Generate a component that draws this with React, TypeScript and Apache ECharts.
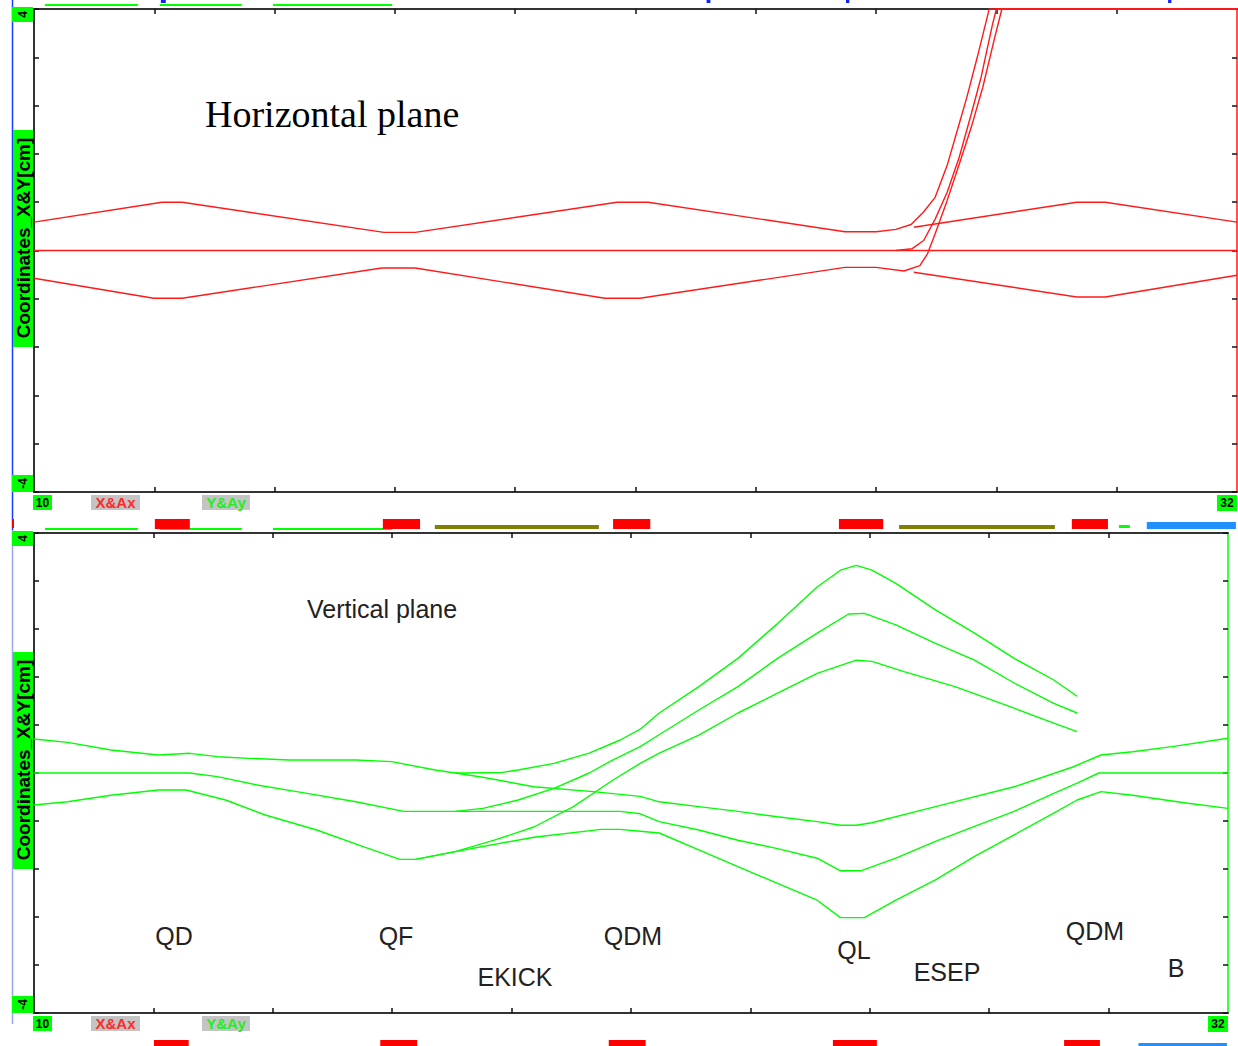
import React, { useEffect, useRef } from "react";
import * as echarts from "echarts";

// ---------- axis ranges / ticks ----------
const X_MIN = 10;
const X_MAX = 32;
const Y_MIN = -4;
const Y_MAX = 4;
const Y_INTERVAL = 0.8;
const X_TICKS = [12.2, 14.4, 16.6, 18.8, 21.0, 23.2, 25.4, 27.6, 29.8];

// ---------- Horizontal plane (red), [s, x_cm] ----------
const hUpper = [
  [10, 0.47], [12.34, 0.8], [12.71, 0.8], [16.4, 0.3], [16.97, 0.3], [20.66, 0.8], [21.23, 0.8],
  [24.83, 0.31], [25.4, 0.31], [25.76, 0.35], [26.04, 0.43], [26.26, 0.63], [26.48, 0.88],
  [26.7, 1.41], [26.92, 2.1], [27.06, 2.54], [27.25, 3.2], [27.46, 3.97], [27.47, 4], [32, 4],
];
const hCenter = [[10, 0], [32, 0]];
const hCenterKicked = [
  [25.76, 0], [26.06, 0.03], [26.27, 0.165], [26.48, 0.52], [26.7, 0.965], [26.92, 1.545],
  [27.14, 2.26], [27.32, 2.87], [27.53, 3.75], [27.6, 4], [32, 4],
];
const hLower = [
  [10, -0.46], [12.19, -0.79], [12.71, -0.79], [16.36, -0.29], [16.97, -0.29], [20.44, -0.79],
  [21.08, -0.79], [24.83, -0.28], [25.4, -0.28], [25.91, -0.34], [26.2, -0.25], [26.34, -0.055],
  [26.48, 0.276], [26.7, 0.83], [26.92, 1.43], [27.14, 2.04], [27.35, 2.7], [27.57, 3.53], [27.7, 4], [32, 4],
];
const hUpperOut = [[26.09, 0.386], [29.07, 0.8], [29.59, 0.8], [32, 0.47]];
const hLowerOut = [[26.09, -0.36], [29.07, -0.77], [29.59, -0.77], [32, -0.41]];

// ---------- Vertical plane (green), [s, y_cm] ----------
const vUpper = [
  [10, 0.567], [10.62, 0.51], [11.42, 0.383], [12.29, 0.3], [12.87, 0.328], [13.38, 0.272],
  [13.97, 0.244], [14.7, 0.217], [15.93, 0.217], [16.59, 0.189], [17.39, 0.05], [17.76, 0.0],
  [18.27, -0.07], [19.21, -0.23], [20.3, -0.31], [21.17, -0.39], [21.52, -0.48], [22.25, -0.56],
  [22.97, -0.64], [23.7, -0.73], [24.43, -0.81], [24.86, -0.87], [25.15, -0.87], [25.44, -0.83],
  [26.61, -0.56], [28.06, -0.23], [29.14, 0.1], [29.66, 0.3], [30.24, 0.355], [30.97, 0.44], [32, 0.58],
];
const vCenter = [
  [10, 0.0], [12.87, 0.0], [13.38, -0.06], [14.11, -0.2], [14.84, -0.31], [15.93, -0.48],
  [16.81, -0.64], [17.76, -0.64], [19.94, -0.64], [20.8, -0.64], [21.17, -0.68], [21.52, -0.81],
  [22.25, -0.95], [22.97, -1.12], [23.7, -1.26], [24.43, -1.42], [24.86, -1.63], [25.23, -1.63],
  [25.88, -1.42], [26.61, -1.14], [27.33, -0.89], [28.06, -0.64], [28.79, -0.34], [29.22, -0.17],
  [29.62, 0.0], [32, 0.0],
];
const vLower = [
  [10, -0.533], [10.62, -0.48], [11.42, -0.37], [12.29, -0.283], [12.8, -0.283], [13.53, -0.45],
  [14.26, -0.7], [15.21, -0.95], [16.08, -1.23], [16.74, -1.44], [17.03, -1.44], [17.76, -1.31],
  [19.21, -1.07], [20.45, -0.94], [20.8, -0.94], [21.17, -0.97], [21.52, -1.0], [22.25, -1.28],
  [22.97, -1.56], [23.7, -1.84], [24.43, -2.12], [24.86, -2.41], [25.3, -2.41], [25.88, -2.12],
  [26.61, -1.78], [27.33, -1.39], [28.06, -1.03], [28.79, -0.67], [29.22, -0.45], [29.66, -0.31],
  [30.24, -0.37], [31.26, -0.505], [32, -0.59],
];
const vUpperKicked = [
  [17.76, 0.0], [17.97, 0.0], [18.63, 0.01], [18.92, 0.05], [19.58, 0.16], [20.23, 0.33],
  [20.67, 0.5], [20.8, 0.55], [21.17, 0.73], [21.52, 1.0], [22.25, 1.44], [22.97, 1.91],
  [23.7, 2.49], [24.07, 2.8], [24.43, 3.1], [24.86, 3.38], [25.15, 3.46], [25.44, 3.38],
  [25.88, 3.16], [26.61, 2.72], [27.33, 2.33], [28.06, 1.91], [28.79, 1.55], [29.22, 1.28],
];
const vCenterKicked = [
  [17.76, -0.64], [18.27, -0.59], [18.92, -0.45], [19.58, -0.255], [20.23, 0.0], [20.67, 0.22],
  [21.17, 0.44], [21.45, 0.6], [22.25, 1.05], [22.97, 1.44], [23.7, 1.91], [24.43, 2.33],
  [25.01, 2.65], [25.3, 2.66], [25.88, 2.47], [26.61, 2.16], [27.33, 1.88], [28.06, 1.5],
  [28.79, 1.16], [29.22, 1.0],
];
const vLowerKicked = [
  [17.03, -1.44], [17.76, -1.31], [18.48, -1.12], [19.21, -0.9], [19.94, -0.56], [20.67, -0.117],
  [21.17, 0.16], [21.52, 0.33], [22.25, 0.63], [22.97, 1.0], [23.7, 1.33], [24.43, 1.66],
  [25.15, 1.88], [25.44, 1.86], [26.03, 1.69], [26.97, 1.44], [28.06, 1.08], [28.79, 0.83], [29.22, 0.69],
];

// ---------- lattice: [start, end, kind] kind: 0 quad, 1 kicker/septum, 2 corrector, 3 bend ----------
const latticeElements = [
  [12.21, 12.85, 0], [16.38, 17.06, 0], [20.59, 21.27, 0], [24.72, 25.53, 0], [28.98, 29.64, 0],
  [17.33, 20.33, 1], [25.82, 28.67, 1],
  [29.84, 30.04, 2],
  [30.35, 31.98, 3],
];
const driftSegments = [[10.2, 11.9], [12.3, 13.8], [14.37, 16.55]];
const topMarkers = [[12.32, 12.41], [22.3, 22.37], [24.85, 24.91], [30.74, 30.8]];

// ---------- element names shown in the vertical plane ----------
const elementLabels = [
  { name: "QD", x: 174, y: 936 },
  { name: "QF", x: 396, y: 936 },
  { name: "QDM", x: 633, y: 936 },
  { name: "EKICK", x: 515, y: 977 },
  { name: "QL", x: 854, y: 950 },
  { name: "ESEP", x: 947, y: 972 },
  { name: "QDM", x: 1095, y: 931 },
  { name: "B", x: 1176, y: 968 },
];

const RED = "#ff1a1a";
const GREEN = "#00ff00";
const OLIVE = "#808000";
const BLUE = "#2090ff";
const SANS = "'Liberation Sans', Arial, sans-serif";
const SERIF = "'Liberation Serif', 'Times New Roman', serif";

const KIND_STYLE = [
  { top: 0, h: 10, color: "#ff0000" },
  { top: 6, h: 4, color: OLIVE },
  { top: 6, h: 3, color: GREEN },
  { top: 3, h: 7, color: BLUE },
];

function box(x: number, y: number, w: number, h: number, fill: string) {
  return { type: "rect", shape: { x, y, width: w, height: h }, style: { fill }, z: 5 };
}
function txt(text: string, x: number, y: number, font: string, fill: string, rotation = 0, align = "center") {
  return {
    type: "text",
    x,
    y,
    rotation,
    z: 6,
    style: { text, font, fill, align, verticalAlign: "middle" },
  };
}

function lineSeries(name: string, data: number[][], color: string, xi: number, yi: number) {
  return {
    name,
    type: "line",
    xAxisIndex: xi,
    yAxisIndex: yi,
    data,
    showSymbol: false,
    symbol: "none",
    clip: false,
    lineStyle: { color, width: 1.4 },
    z: 3,
  };
}

function latticeSeries(xi: number, yi: number) {
  return {
    type: "custom",
    xAxisIndex: xi,
    yAxisIndex: yi,
    data: latticeElements,
    dimensions: ["start", "end", "kind"],
    encode: { x: [0, 1] },
    clip: false,
    z: 4,
    renderItem: (params: any, api: any) => {
      const s = api.coord([api.value(0), 0]);
      const e = api.coord([api.value(1), 0]);
      const st = KIND_STYLE[api.value(2)];
      const cs = params.coordSys;
      return {
        type: "rect",
        shape: { x: s[0], y: cs.y + st.top, width: e[0] - s[0], height: st.h },
        style: { fill: st.color },
      };
    },
  };
}

function segmentSeries(data: number[][], xi: number, yi: number, top: number, h: number, color: string) {
  return {
    type: "custom",
    xAxisIndex: xi,
    yAxisIndex: yi,
    data,
    dimensions: ["start", "end"],
    encode: { x: [0, 1] },
    clip: false,
    z: 3,
    renderItem: (params: any, api: any) => {
      const s = api.coord([api.value(0), 0]);
      const e = api.coord([api.value(1), 0]);
      const cs = params.coordSys;
      return {
        type: "rect",
        shape: { x: s[0], y: cs.y + top, width: e[0] - s[0], height: h },
        style: { fill: color },
      };
    },
  };
}

function plotX(grid: number, position: string) {
  return {
    type: "value",
    gridIndex: grid,
    position,
    min: X_MIN,
    max: X_MAX,
    axisLine: { show: true, onZero: false, lineStyle: { color: "#333", width: 2 } },
    axisTick: { show: true, inside: true, length: 5, customValues: X_TICKS, lineStyle: { color: "#111", width: 1.5 } },
    axisLabel: { show: false },
    splitLine: { show: false },
  };
}
function plotY(grid: number, position: string, color: string, width: number) {
  return {
    type: "value",
    gridIndex: grid,
    position,
    min: Y_MIN,
    max: Y_MAX,
    interval: Y_INTERVAL,
    axisLine: { show: true, onZero: false, lineStyle: { color, width } },
    axisTick: { show: true, inside: true, length: 5, lineStyle: { color: "#111", width: 1.5 } },
    axisLabel: { show: false },
    splitLine: { show: false },
  };
}
function hiddenX(grid: number) {
  return { type: "value", gridIndex: grid, min: X_MIN, max: X_MAX, show: false };
}
function hiddenY(grid: number) {
  return { type: "value", gridIndex: grid, min: 0, max: 1, show: false };
}

function panelDecor(top: number, bottom: number, titleY: number, labelRowY: number, right: number) {
  const items: any[] = [];
  // y max label "4"
  items.push(box(12, top - 2, 21, 15, GREEN));
  items.push(txt("4", 22.5, top + 5.5, `bold 12px ${SANS}`, "#000", Math.PI / 2));
  // y min label "-4"
  items.push(box(12, bottom - 17, 21, 17, GREEN));
  items.push(txt("-4", 22.5, bottom - 8.5, `bold 12px ${SANS}`, "#000", Math.PI / 2));
  // y title
  items.push(box(13, titleY - 108, 20, 217, GREEN));
  items.push(txt("Coordinates_X&Y[cm]", 23, titleY, `bold 19px ${SANS}`, "#000", Math.PI / 2));
  // x labels row
  items.push(box(33, labelRowY, 19, 15, GREEN));
  items.push(txt("10", 42.5, labelRowY + 7.5, `bold 12px ${SANS}`, "#000"));
  items.push(box(91, labelRowY, 49, 15, "#c4c4c4"));
  items.push(txt("X&Ax", 115.5, labelRowY + 7.5, `bold 15px ${SANS}`, "#ff2a2a"));
  items.push(box(202, labelRowY, 48, 15, "#c4c4c4"));
  items.push(txt("Y&Ay", 226, labelRowY + 7.5, `bold 15px ${SANS}`, "#22ee22"));
  items.push(box(right - 20, labelRowY, 20, 16, GREEN));
  items.push(txt("32", right - 10, labelRowY + 8, `bold 12px ${SANS}`, "#000"));
  return items;
}

export default function App() {
  const ref = useRef<HTMLDivElement>(null);

  useEffect(() => {
    if (!ref.current) return;
    const chart = echarts.init(ref.current, undefined, { renderer: "svg" });

    const graphic: any[] = [
      { type: "line", shape: { x1: 12.5, y1: 0, x2: 12.5, y2: 530 }, style: { stroke: "#1840ff", lineWidth: 1.5 }, z: 4 },
      { type: "line", shape: { x1: 12.5, y1: 530, x2: 12.5, y2: 1024 }, style: { stroke: "#98a6f2", lineWidth: 1.5 }, z: 4 },
      box(12, 519, 2, 9, "#ff0000"),
      ...panelDecor(9, 492, 238, 495, 1237),
      ...panelDecor(533, 1013, 760, 1016, 1228),
      txt("Horizontal plane", 205, 114, `38px ${SERIF}`, "#000", 0, "left"),
      txt("Vertical plane", 307, 609, `25px ${SANS}`, "#222", 0, "left"),
      ...elementLabels.map((l) => txt(l.name, l.x, l.y, `25px ${SANS}`, "#222")),
    ];

    chart.setOption({
      animation: false,
      backgroundColor: "#ffffff",
      grid: [
        { left: 34, top: 9, width: 1203, height: 483 },
        { left: 34, top: 533, width: 1194, height: 480 },
        { left: 34, top: 519, width: 1203, height: 11 },
        { left: 34, top: 1040, width: 1194, height: 11 },
        { left: 34, top: 0, width: 1203, height: 6 },
      ],
      xAxis: [
        plotX(0, "bottom"),
        plotX(0, "top"),
        plotX(1, "bottom"),
        plotX(1, "top"),
        hiddenX(2),
        hiddenX(3),
        hiddenX(4),
      ],
      yAxis: [
        plotY(0, "left", "#333", 2),
        plotY(0, "right", RED, 1.5),
        plotY(1, "left", "#333", 2),
        plotY(1, "right", GREEN, 1.5),
        hiddenY(2),
        hiddenY(3),
        hiddenY(4),
      ],
      series: [
        lineSeries("x upper", hUpper, RED, 0, 0),
        lineSeries("x center", hCenter, RED, 0, 0),
        lineSeries("x center kicked", hCenterKicked, RED, 0, 0),
        lineSeries("x lower", hLower, RED, 0, 0),
        lineSeries("x upper out", hUpperOut, RED, 0, 0),
        lineSeries("x lower out", hLowerOut, RED, 0, 0),
        lineSeries("y upper", vUpper, GREEN, 2, 2),
        lineSeries("y center", vCenter, GREEN, 2, 2),
        lineSeries("y lower", vLower, GREEN, 2, 2),
        lineSeries("y upper kicked", vUpperKicked, GREEN, 2, 2),
        lineSeries("y center kicked", vCenterKicked, GREEN, 2, 2),
        lineSeries("y lower kicked", vLowerKicked, GREEN, 2, 2),
        segmentSeries(driftSegments, 4, 4, 9, 2, GREEN),
        latticeSeries(4, 4),
        latticeSeries(5, 5),
        segmentSeries(driftSegments, 6, 6, 4, 2, GREEN),
        segmentSeries(topMarkers, 6, 6, 0, 3, "#1020ff"),
      ],
      graphic,
    });

    return () => chart.dispose();
  }, []);

  return (
    <div
      ref={ref}
      style={{ position: "absolute", left: 0, top: 0, width: 1238, height: 1046, background: "#fff" }}
    />
  );
}
